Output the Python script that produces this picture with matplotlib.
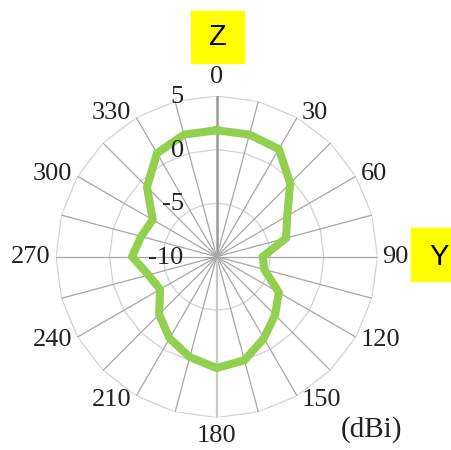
import numpy as np
import matplotlib
matplotlib.use("Agg")
import matplotlib.pyplot as plt
import matplotlib.transforms as mtransforms
from matplotlib.patches import Rectangle

# radiation pattern, 15 deg steps (dBi)
angles_deg = np.arange(0, 360, 15)
gain_dbi = [1.8, 1.8, 1.6, -0.3, -2.4, -3.3, -5.7, -5.4,
            -3.3, -2.3, -1.2, 0.0, 0.4, -0.3, -1.2, -2.4,
            -3.9, -3.4, -2.1, -2.7, -3.1, -0.8, 1.15, 1.8]

r_min, r_max = -10, 5
ring_values = [-5, 0, 5]
ring_labels = ["5", "0", "-5", "-10"]
ring_label_vals = [5, 0, -5, -10]
label_angles = list(range(0, 360, 30))
angle_labels = [str(a) for a in label_angles]

W, H = 452, 450
cx, cy, R = 216.7, 256.7, 160.7      # centre + outer radius in pixels

fig = plt.figure(figsize=(W / 100, H / 100), dpi=100)
ax = fig.add_axes([(cx - R) / W, 1 - (cy + R) / H, 2 * R / W, 2 * R / H], polar=True)
ax.set_theta_zero_location('N')
ax.set_theta_direction(-1)
ax.set_ylim(r_min, r_max)
ax.grid(False)
ax.spines['polar'].set_visible(False)
ax.set_xticks([])
ax.set_yticks([])
ax.patch.set_alpha(0)

th = np.deg2rad(angles_deg)
th_closed = np.append(th, th[0])

# polygon rings
for v in ring_values:
    ax.plot(th_closed, [v] * len(th_closed), color='#d2d2d2', lw=0.9, zorder=1)

# spokes
for a in angles_deg:
    if a == 0:
        col, lw = '#9a9a9a', 1.8
    elif a == 180:
        col, lw = '#c8c8c8', 1.6
    else:
        col, lw = '#a6a6a6', 0.9
    ax.plot([np.deg2rad(a)] * 2, [r_min, r_max], color=col, lw=lw, zorder=1)

# data
g = np.append(gain_dbi, gain_dbi[0])
ax.plot(th_closed, g, color='#92d050', lw=5.8, solid_joinstyle='miter', zorder=3)

serif = ['Liberation Serif', 'DejaVu Serif']

# angle labels (excel style: beside the spoke end)
for a, lab in zip(label_angles, angle_labels):
    s, c = np.sin(np.deg2rad(a)), np.cos(np.deg2rad(a))
    if abs(s) < 0.01:
        ha, dx, dy = 'center', 0, 19 * c
    else:
        ha = 'left' if s > 0 else 'right'
        dx, dy = 5 * np.sign(s), 5 * c
    tr = mtransforms.offset_copy(ax.transData, fig=fig, x=dx, y=dy, units='dots')
    ax.text(np.deg2rad(a), r_max, lab, transform=tr, ha=ha, va='center',
            fontsize=19, family=serif, color='#222222', clip_on=False)

# value labels, left of the 0 deg spoke
off = mtransforms.offset_copy(ax.transData, fig=fig, x=-33, y=-1, units='dots')
for v, lab in zip(ring_label_vals, ring_labels):
    ax.text(0, v, lab, transform=off, ha='right', va='center',
            fontsize=19, family=serif, color='#222222', clip_on=False, zorder=4)

fig.text(371.5 / W, 1 - 430 / H, "(dBi)", ha='center', va='center',
         fontsize=21, family=serif, color='#222222')

# yellow axis tags
fig.patches.append(Rectangle((191 / W, 1 - 63 / H), 53 / W, 52 / H,
                             transform=fig.transFigure, color='#ffff00', zorder=0))
fig.text(217.5 / W, 1 - 37 / H, "Z", ha='center', va='center', fontsize=21,
         family=['Liberation Sans', 'DejaVu Sans'])
fig.patches.append(Rectangle((411 / W, 1 - 281 / H), 41 / W, 53 / H,
                             transform=fig.transFigure, color='#ffff00', zorder=0))
fig.text(439 / W, 1 - 257 / H, "Y", ha='center', va='center', fontsize=21,
         family=['Liberation Sans', 'DejaVu Sans'])

fig.savefig("out.png", dpi=100)
